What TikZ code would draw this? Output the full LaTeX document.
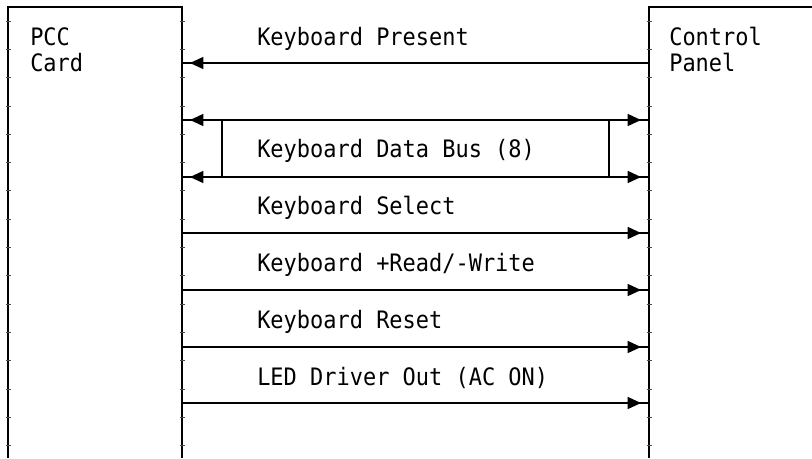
\documentclass[tikz,border=0pt]{standalone}
\usepackage{fontspec}
\newfontfamily\monofnt[FakeStretch=0.915]{DejaVu Sans Mono}
\usetikzlibrary{arrows.meta,decorations.markings}
\tikzset{
  boxline/.style={line width=1.2pt, line cap=butt},
  tickline/.style={line width=0.5pt, black!70},
  sig/.style={line width=1pt},
  tipR/.style={postaction={decorate}, decoration={markings,
      mark=at position -6pt with {\arrow{Triangle[length=10pt,width=9pt]}}}},
  tipBoth/.style={postaction={decorate}, decoration={markings,
      mark=at position 6pt with {\arrowreversed{Triangle[length=10pt,width=9pt]}},
      mark=at position -6pt with {\arrow{Triangle[length=10pt,width=9pt]}}}},
  lbl/.style={anchor=base west, inner sep=0pt, font=\monofnt\fontsize{18pt}{20pt}\selectfont}
}
\begin{document}
\begin{tikzpicture}[x=0.75pt,y=-0.75pt]
\useasboundingbox (0,0) rectangle (812,458);
% box corners
\coordinate (lbBL) at (8,458);
\coordinate (lbTL) at (8,7);
\coordinate (lbTR) at (182,7);
\coordinate (lbBR) at (182,458);
\coordinate (rbBL) at (649,458);
\coordinate (rbTL) at (649,7);
\coordinate (rbTR) at (812,7);
\draw[boxline] (lbBL) -- (lbTL) -- (lbTR) -- (lbBR);
\draw[boxline] (rbBL) -- (rbTL) -- (rbTR);
% ticks
\foreach \k in {0,...,15} {
  \pgfmathsetmacro{\yy}{21+28.3*\k}
  \foreach \xx in {8,182,649} {
    \draw[tickline] (\xx-2.5,\yy) -- (\xx+2.5,\yy);
  }
}
% box labels
\node[lbl] (pcc1) at (30,45) {PCC};
\node[lbl] (pcc2) at (30,71) {Card};
\node[lbl] (cp1) at (669,45) {Control};
\node[lbl] (cp2) at (669,71) {Panel};
% signal end points
\foreach \i/\y in {1/63,2/120,3/177,4/233,5/290,6/347,7/403} {
  \coordinate (L\i) at (182,\y);
  \coordinate (R\i) at (649,\y);
}
\coordinate (bL1) at (222,120);
\coordinate (bL2) at (222,177);
\coordinate (bR1) at (609,120);
\coordinate (bR2) at (609,177);
% connectors
\draw[sig,tipR] (R1) -- (L1);
\draw[sig,tipBoth] (L2) -- (R2);
\draw[sig,tipBoth] (L3) -- (R3);
\draw[sig] (bL1) -- (bL2);
\draw[sig] (bR1) -- (bR2);
\draw[sig,tipR] (L4) -- (R4);
\draw[sig,tipR] (L5) -- (R5);
\draw[sig,tipR] (L6) -- (R6);
\draw[sig,tipR] (L7) -- (R7);
% signal labels
\node[lbl] (t1) at (257,45) {Keyboard Present};
\node[lbl] (t2) at (257,157) {Keyboard Data Bus (8)};
\node[lbl] (t3) at (257,214) {Keyboard Select};
\node[lbl] (t4) at (257,271) {Keyboard +Read/-Write};
\node[lbl] (t5) at (257,328) {Keyboard Reset};
\node[lbl] (t6) at (257,385) {LED Driver Out (AC ON)};
\end{tikzpicture}
\end{document}
